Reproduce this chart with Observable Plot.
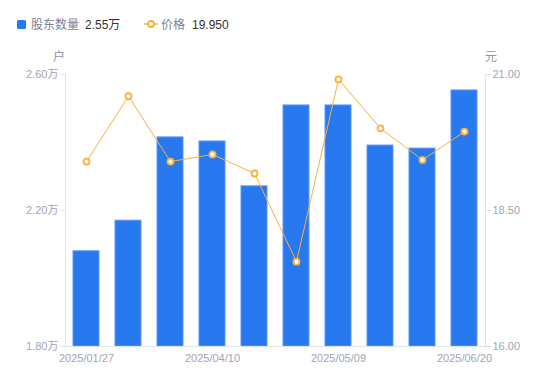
<!DOCTYPE html>
<html><head><meta charset="utf-8">
<script src="https://cdn.jsdelivr.net/npm/d3@7"></script>
<script src="https://cdn.jsdelivr.net/npm/@observablehq/plot@0.6"></script>
<style>
body{margin:0;background:#fff;font-family:"Liberation Sans","Noto Sans CJK SC",sans-serif;}
#wrap{position:relative;width:550px;height:381px;overflow:hidden;}
.abs{position:absolute;white-space:nowrap;}
.lg{font-size:12px;line-height:14px;}
.gray{color:#7c8194;}
.dark{color:#333;}
.unit{font-size:12px;color:#8d92a5;line-height:14px;}
.layer{position:absolute;left:0;top:45px;}
</style>
</head><body>
<div id="wrap">
  <div class="abs" style="left:17px;top:20px;width:9px;height:9px;background:#2878f0;border-radius:1.5px"></div>
  <div class="abs lg gray" style="left:31px;top:18px">股东数量</div>
  <div class="abs lg dark" style="left:85px;top:18px">2.55万</div>
  <svg class="abs" style="left:143px;top:18px" width="16" height="12"><line x1="1" x2="15" y1="6" y2="6" stroke="#fbb03b" stroke-width="1.5"/><circle cx="8" cy="6" r="3" fill="#fff" stroke="#fbb03b" stroke-width="1.8"/></svg>
  <div class="abs lg gray" style="left:161px;top:18px">价格</div>
  <div class="abs lg dark" style="left:192px;top:18px">19.950</div>
  <div class="abs unit" style="left:53px;top:50px">户</div>
  <div class="abs unit" style="left:485px;top:50px">元</div>
  <div id="p1" class="layer"></div>
  <div id="p2" class="layer"></div>
</div>
<script>
const dates = ["2025/01/27","2025/02/28","2025/03/20","2025/04/10","2025/04/18","2025/04/30","2025/05/09","2025/05/20","2025/05/30","2025/06/20"];
const holders = [2.08, 2.17, 2.415, 2.403, 2.271, 2.509, 2.509, 2.391, 2.382, 2.553]; // 万户
const prices = [19.40, 20.60, 19.40, 19.53, 19.18, 17.56, 20.91, 20.01, 19.43, 19.95];
const holderTicks = [1.8, 2.2, 2.6];
const priceTicks = [16, 18.5, 21];
const xTicks = ["2025/01/27","2025/04/10","2025/05/09","2025/06/20"];

const rows = dates.map((d, i) => ({date: d, holders: holders[i], price: prices[i]}));
const common = {
  width: 550, height: 336, marginTop: 29, marginBottom: 35, marginLeft: 65, marginRight: 65,
  style: {fontSize: "11px", fontFamily: '"Liberation Sans","Noto Sans CJK SC",sans-serif', background: "transparent", overflow: "visible"},
  x: {type: "band", domain: dates, paddingInner: 0.38, paddingOuter: 0.19, axis: null}
};
const axisColor = "#e3e4ea", textColor = "#a0a4b6";

const p1 = Plot.plot({
  ...common,
  y: {domain: [holderTicks[0], holderTicks[holderTicks.length - 1]], axis: null},
  marks: [
    Plot.barY(rows, {x: "date", y1: holderTicks[0], y2: "holders", fill: "#2878f0", stroke: "#5b98f4", strokeWidth: 1}),
    Plot.frame({anchor: "left", stroke: axisColor}),
    Plot.ruleY([holderTicks[0]], {stroke: axisColor}),
    Plot.axisY({ticks: holderTicks, tickFormat: d => d.toFixed(2) + "万", tickSize: 5, tickPadding: 2, label: null, stroke: axisColor, fill: textColor}),
    Plot.axisX({ticks: xTicks, tickSize: 0, tickPadding: 8, label: null, fill: textColor})
  ]
});
document.getElementById("p1").append(p1);

const p2 = Plot.plot({
  ...common,
  y: {domain: [priceTicks[0], priceTicks[priceTicks.length - 1]], axis: null},
  marks: [
    Plot.frame({anchor: "right", stroke: axisColor}),
    Plot.axisY({anchor: "right", ticks: priceTicks, tickFormat: d => d.toFixed(2), tickSize: 5, tickPadding: 2, label: null, stroke: axisColor, fill: textColor}),
    Plot.lineY(rows, {x: "date", y: "price", stroke: "#fbb03b", strokeWidth: 1}),
    Plot.dot(rows, {x: "date", y: "price", r: 3, fill: "#fff", stroke: "#fbb03b", strokeWidth: 1.8})
  ]
});
document.getElementById("p2").append(p2);
</script>
</body></html>
